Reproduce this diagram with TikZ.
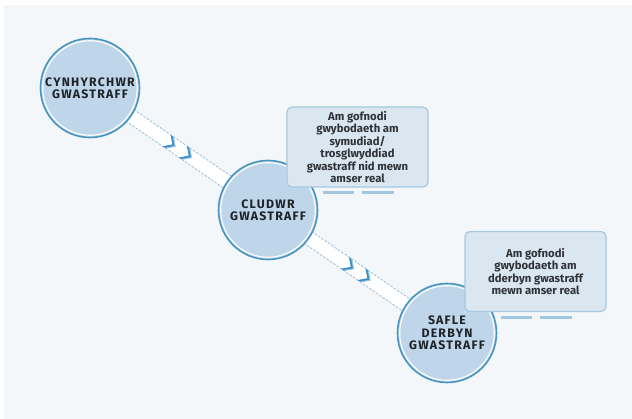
\documentclass[tikz,border=0pt]{standalone}
\usepackage{fontspec}
\setmainfont{Fira Sans}
\newfontfamily\stationfont[LetterSpace=10]{Fira Sans}
\usepackage{xcolor}
\usetikzlibrary{calc}
\usetikzlibrary{arrows.meta}

\definecolor{panel}{HTML}{F3F7FA}
\definecolor{stationfill}{HTML}{BFD6EA}
\definecolor{ringblue}{HTML}{4A95C0}
\definecolor{labelgray}{HTML}{1E2328}
\definecolor{notefill}{HTML}{DAE6F0}
\definecolor{noteline}{HTML}{A7C8E0}
\definecolor{notetext}{HTML}{2E3338}
\definecolor{edgeblue}{HTML}{8FB8D6}
\definecolor{chevblue}{HTML}{3B8FC7}
\definecolor{chevlight}{HTML}{9CC8E6}
\definecolor{footblue}{HTML}{A3C6E0}

\pgfdeclarelayer{bg}
\pgfdeclarelayer{band}
\pgfsetlayers{bg,band,main}

\tikzset{
    station/.style={circle, minimum size=99pt, inner sep=0pt,
        fill=stationfill, draw=ringblue, line width=1.6pt,
        align=center, text=labelgray,
        font=\stationfont\bfseries\fontsize{12.3}{12.5}\selectfont,
        path picture={\draw[white, line width=1.1pt]
            (path picture bounding box.center) circle (47.3pt);}},
    note/.style={rectangle, rounded corners=5pt, minimum width=141pt,
        minimum height=80pt, inner sep=2pt, align=center,
        fill=notefill, draw=noteline, line width=1.2pt, text=notetext,
        font=\bfseries\fontsize{11.3}{12.5}\selectfont},
    band/.style={white, line width=14pt},
    bandedge/.style={edgeblue, line width=0.7pt, dash pattern=on 2.5pt off 1.5pt},
    foot/.style={footblue, line width=3pt},
    chevron/.pic={
        \fill[chevlight] (-5,-7) -- (-1,-7) -- (6,0) -- (-1,7) -- (-5,7) -- (2,0) -- cycle;
        \fill[chevblue] (-5,-7) -- (-2.6,-7) -- (4.4,0) -- (-2.6,7) -- (-5,7) -- (2,0) -- cycle;
    }
}

\begin{document}
\begin{tikzpicture}[x=1pt,y=-1pt]
    \useasboundingbox (0,0) rectangle (632,419);

    %PANEL
    \begin{pgfonlayer}{bg}
        \fill[panel] (4,5) rectangle (632,419);
    \end{pgfonlayer}

    %STATIONS
    \node[station] (prod) at (90,88) {CYNHYRCHWR\\GWASTRAFF};
    \node[station] (carr) at (268,210) {CLUDWR\\GWASTRAFF};
    \node[station] (site) at (447,333) {SAFLE\\DERBYN\\GWASTRAFF};

    %BANDS
    \begin{pgfonlayer}{band}
        \foreach \a/\b in {prod/carr,carr/site}{
            \draw[band] (\a) -- (\b);
            \draw[bandedge] ($(\a)!7pt!90:(\b)$) -- ($(\b)!7pt!-90:(\a)$);
            \draw[bandedge] ($(\a)!7pt!-90:(\b)$) -- ($(\b)!7pt!90:(\a)$);
            \path (\a) -- (\b) pic[pos=.414,sloped]{chevron} pic[pos=.586,sloped]{chevron};
        }
    \end{pgfonlayer}

    %NOTES
    \node[note] (note1) at (357.5,147) {Am gofnodi\\gwybodaeth am\\symudiad/\\trosglwyddiad\\gwastraff nid mewn\\amser real};
    \node[note] (note2) at (535.5,271.5) {Am gofnodi\\gwybodaeth am\\dderbyn gwastraff\\mewn amser real};
    \foreach \n in {note1,note2}{
        \draw[foot] ($(\n.south)+(-35,5)$) -- +(31,0);
        \draw[foot] ($(\n.south)+(4,5)$) -- +(32,0);
    }
\end{tikzpicture}
\end{document}
